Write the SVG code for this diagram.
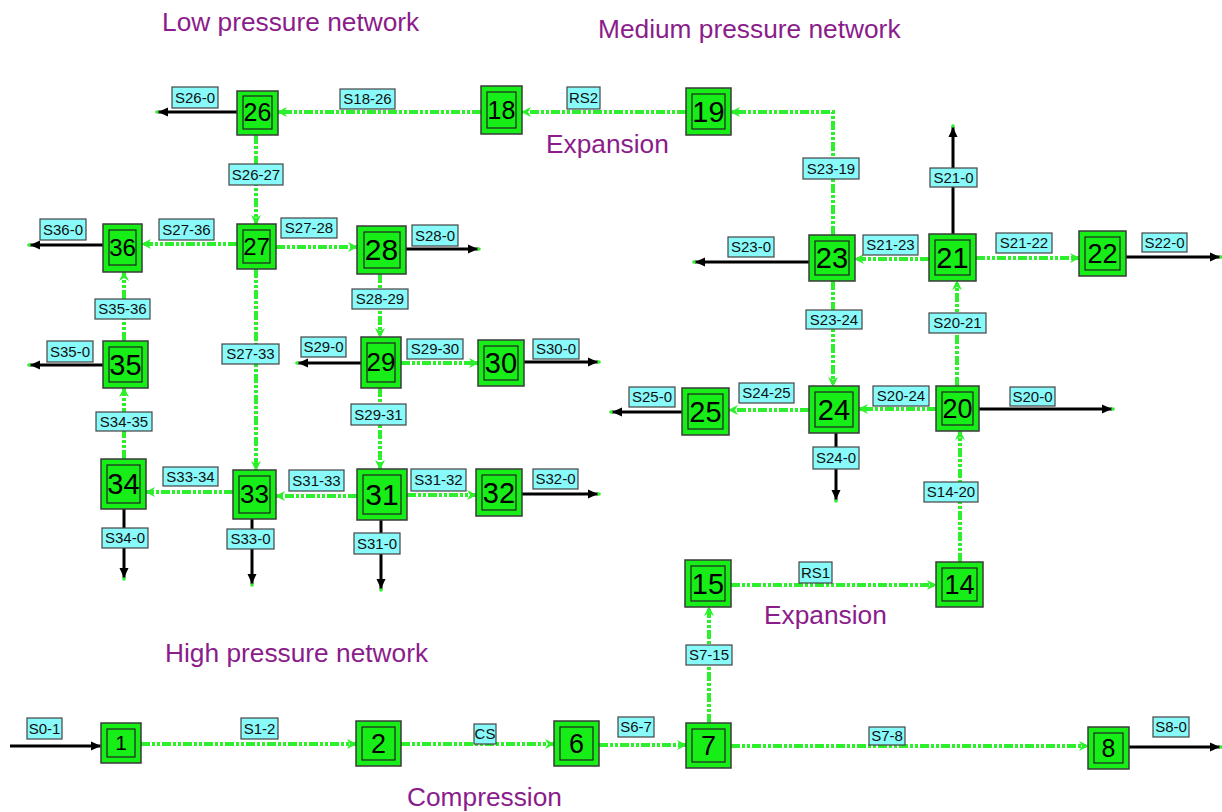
<svg xmlns="http://www.w3.org/2000/svg" width="1222" height="812" viewBox="0 0 1222 812">
  <style>
    .outer { fill: #17ee17; stroke: #3a3a3a; stroke-width: 1.5; }
    .inner { fill: #17ee17; stroke: #222; stroke-width: 1.2; }
    .num { font-family: "Liberation Sans", Arial, sans-serif; fill: #000; text-anchor: middle; }
    .flow { fill: none; stroke: #2cf02c; stroke-width: 4; stroke-dasharray: 9 2 3 2 3 2; marker-end: url(#ga); }
    .out { fill: none; stroke: #000; stroke-width: 3; marker-end: url(#ba); }
    .lbl rect { fill: #88fafa; stroke: #444; stroke-width: 1.2; }
    .lbl text { font-family: "Liberation Sans", Arial, sans-serif; font-size: 15px; fill: #111; text-anchor: middle; }
    .zone { font-family: "Liberation Sans", Arial, sans-serif; font-size: 26.3px; fill: #8b1c8b; }
  </style>
  <defs>
    <marker id="ga" viewBox="0 0 10 10" refX="9" refY="5" markerWidth="11" markerHeight="10" markerUnits="userSpaceOnUse" orient="auto">
      <path d="M0,0 L10,5 L0,10 L3,5 z" fill="#2cf02c"/>
    </marker>
    <marker id="ba" viewBox="0 0 13 10" refX="10" refY="5" markerWidth="13" markerHeight="10" markerUnits="userSpaceOnUse" orient="auto">
      <path d="M0,0.5 L10,5 L0,9.5 z" fill="#000"/>
      <circle cx="11" cy="5" r="1.8" fill="#2cf02c"/>
    </marker>
  </defs>

  <rect width="1222" height="812" fill="#fff"/>

  <!-- zone captions -->
  <g id="captions">
    <text class="zone" x="162" y="31">Low pressure network</text>
    <text class="zone" x="598" y="38">Medium pressure network</text>
    <text class="zone" x="546" y="153">Expansion</text>
    <text class="zone" x="764" y="624">Expansion</text>
    <text class="zone" x="165" y="662">High pressure network</text>
    <text class="zone" x="407" y="806">Compression</text>
  </g>

  <!-- streams -->
  <g id="connectors">
    <path class="flow" d="M141,744 H356"/>
    <path class="flow" d="M401,744 H554"/>
    <path class="flow" d="M599,745 H686"/>
    <path class="flow" d="M731,746 H1088"/>
    <path class="flow" d="M709,723 V607"/>
    <path class="flow" d="M731,585 H936"/>
    <path class="flow" d="M960,562 V431"/>
    <path class="flow" d="M957,386 V281"/>
    <path class="flow" d="M936,409 H859"/>
    <path class="flow" d="M809,410 H729"/>
    <path class="flow" d="M833,281 V386"/>
    <path class="flow" d="M929,259 H855"/>
    <path class="flow" d="M976,258 H1079"/>
    <path class="flow" d="M833,235 V112 H731"/>
    <path class="flow" d="M686,112 H522"/>
    <path class="flow" d="M481,112 H278"/>
    <path class="flow" d="M256,135 V224"/>
    <path class="flow" d="M237,244 H142"/>
    <path class="flow" d="M276,247 H357"/>
    <path class="flow" d="M256,269 V470"/>
    <path class="flow" d="M380,274 V337"/>
    <path class="flow" d="M401,363 H478"/>
    <path class="flow" d="M380,388 V469"/>
    <path class="flow" d="M407,495 H476"/>
    <path class="flow" d="M357,496 H276"/>
    <path class="flow" d="M233,492 H146"/>
    <path class="flow" d="M124,459 V388"/>
    <path class="flow" d="M124,341 V272"/>

    <path class="out" d="M10,746 H101"/>
    <path class="out" d="M1129,747 H1220"/>
    <path class="out" d="M237,112 H158"/>
    <path class="out" d="M103,245 H30"/>
    <path class="out" d="M103,365 H30"/>
    <path class="out" d="M124,509 V578"/>
    <path class="out" d="M252,519 V584"/>
    <path class="out" d="M381,520 V589"/>
    <path class="out" d="M361,363 H298"/>
    <path class="out" d="M524,362 H598"/>
    <path class="out" d="M522,494 H598"/>
    <path class="out" d="M406,249 H478"/>
    <path class="out" d="M809,262 H695"/>
    <path class="out" d="M953,234 V127"/>
    <path class="out" d="M1126,257 H1220"/>
    <path class="out" d="M979,409 H1112"/>
    <path class="out" d="M682,412 H612"/>
    <path class="out" d="M836,433 V500"/>
  </g>

  <!-- stream labels -->
  <g id="labels" class="lbl">
    <rect x="27" y="718" width="35" height="21"/><text x="44.5" y="734">S0-1</text>
    <rect x="241" y="718" width="37" height="21"/><text x="259.5" y="734">S1-2</text>
    <rect x="474" y="724" width="22" height="20"/><text x="485" y="739">CS</text>
    <rect x="618" y="717" width="36" height="20"/><text x="636" y="732">S6-7</text>
    <rect x="869" y="727" width="36" height="18"/><text x="887" y="741">S7-8</text>
    <rect x="1153" y="717" width="36" height="20"/><text x="1171" y="732">S8-0</text>
    <rect x="686" y="645" width="46" height="20"/><text x="709" y="660">S7-15</text>
    <rect x="799" y="562" width="33" height="21"/><text x="815.5" y="578">RS1</text>
    <rect x="924" y="482" width="54" height="20"/><text x="951" y="497">S14-20</text>
    <rect x="1010" y="387" width="45" height="19"/><text x="1032.5" y="402">S20-0</text>
    <rect x="929" y="313" width="57" height="20"/><text x="957.5" y="328">S20-21</text>
    <rect x="873" y="386" width="56" height="20"/><text x="901" y="401">S20-24</text>
    <rect x="739" y="383" width="55" height="20"/><text x="766.5" y="398">S24-25</text>
    <rect x="629" y="387" width="46" height="20"/><text x="652" y="402">S25-0</text>
    <rect x="813" y="447" width="46" height="22"/><text x="836" y="463">S24-0</text>
    <rect x="806" y="310" width="56" height="19"/><text x="834" y="325">S23-24</text>
    <rect x="863" y="235" width="55" height="20"/><text x="890.5" y="250">S21-23</text>
    <rect x="728" y="237" width="46" height="20"/><text x="751" y="252">S23-0</text>
    <rect x="930" y="168" width="47" height="19"/><text x="953.5" y="183">S21-0</text>
    <rect x="996" y="233" width="56" height="20"/><text x="1024" y="248">S21-22</text>
    <rect x="1142" y="233" width="45" height="19"/><text x="1164.5" y="248">S22-0</text>
    <rect x="803" y="158" width="56" height="21"/><text x="831" y="174">S23-19</text>
    <rect x="567" y="87" width="33" height="22"/><text x="583.5" y="103">RS2</text>
    <rect x="340" y="89" width="55" height="20"/><text x="367.5" y="104">S18-26</text>
    <rect x="172" y="87" width="46" height="21"/><text x="195" y="103">S26-0</text>
    <rect x="229" y="164" width="54" height="21"/><text x="256" y="180">S26-27</text>
    <rect x="159" y="219" width="55" height="21"/><text x="186.5" y="235">S27-36</text>
    <rect x="281" y="218" width="56" height="20"/><text x="309" y="233">S27-28</text>
    <rect x="412" y="225" width="46" height="21"/><text x="435" y="241">S28-0</text>
    <rect x="40" y="219" width="46" height="21"/><text x="63" y="235">S36-0</text>
    <rect x="95" y="299" width="55" height="20"/><text x="122.5" y="314">S35-36</text>
    <rect x="47" y="341" width="46" height="21"/><text x="70" y="357">S35-0</text>
    <rect x="222" y="344" width="57" height="20"/><text x="250.5" y="359">S27-33</text>
    <rect x="352" y="289" width="56" height="20"/><text x="380" y="304">S28-29</text>
    <rect x="301" y="337" width="45" height="20"/><text x="323.5" y="352">S29-0</text>
    <rect x="407" y="339" width="56" height="20"/><text x="435" y="354">S29-30</text>
    <rect x="533" y="339" width="46" height="20"/><text x="556" y="354">S30-0</text>
    <rect x="351" y="404" width="55" height="21"/><text x="378.5" y="420">S29-31</text>
    <rect x="96" y="412" width="56" height="19"/><text x="124" y="427">S34-35</text>
    <rect x="163" y="467" width="55" height="19"/><text x="190.5" y="482">S33-34</text>
    <rect x="289" y="470" width="55" height="21"/><text x="316.5" y="486">S31-33</text>
    <rect x="411" y="469" width="55" height="22"/><text x="438.5" y="485">S31-32</text>
    <rect x="533" y="469" width="45" height="20"/><text x="555.5" y="484">S32-0</text>
    <rect x="102" y="528" width="46" height="20"/><text x="125" y="543">S34-0</text>
    <rect x="227" y="529" width="47" height="20"/><text x="250.5" y="544">S33-0</text>
    <rect x="354" y="533" width="46" height="21"/><text x="377" y="549">S31-0</text>
  </g>

  <!-- units -->
  <g id="n1"><rect class="outer" x="101" y="723" width="40" height="40"/><rect class="inner" x="107" y="729" width="28" height="28"/><text class="num" x="121" y="750" font-size="21">1</text></g>
  <g id="n2"><rect class="outer" x="356" y="721" width="45" height="45"/><rect class="inner" x="362" y="727" width="33" height="33"/><text class="num" x="378.5" y="753" font-size="27">2</text></g>
  <g id="n6"><rect class="outer" x="554" y="721" width="45" height="45"/><rect class="inner" x="560" y="727" width="33" height="33"/><text class="num" x="576.5" y="753" font-size="27">6</text></g>
  <g id="n7"><rect class="outer" x="686" y="723" width="45" height="45"/><rect class="inner" x="692" y="729" width="33" height="33"/><text class="num" x="708.5" y="755" font-size="27">7</text></g>
  <g id="n8"><rect class="outer" x="1088" y="727" width="41" height="42"/><rect class="inner" x="1094" y="733" width="29" height="30"/><text class="num" x="1108.5" y="757" font-size="25">8</text></g>
  <g id="n14"><rect class="outer" x="936" y="562" width="47" height="45"/><rect class="inner" x="942" y="568" width="35" height="33"/><text class="num" x="959.5" y="594" font-size="27">14</text></g>
  <g id="n15"><rect class="outer" x="685" y="560" width="46" height="47"/><rect class="inner" x="691" y="566" width="34" height="35"/><text class="num" x="708" y="594" font-size="29">15</text></g>
  <g id="n18"><rect class="outer" x="481" y="86" width="41" height="48"/><rect class="inner" x="487" y="92" width="29" height="36"/><text class="num" x="501.5" y="119" font-size="25">18</text></g>
  <g id="n19"><rect class="outer" x="686" y="88" width="45" height="47"/><rect class="inner" x="692" y="94" width="33" height="35"/><text class="num" x="708.5" y="122" font-size="29">19</text></g>
  <g id="n20"><rect class="outer" x="936" y="386" width="43" height="45"/><rect class="inner" x="942" y="392" width="31" height="33"/><text class="num" x="957.5" y="418" font-size="27">20</text></g>
  <g id="n21"><rect class="outer" x="929" y="234" width="47" height="47"/><rect class="inner" x="935" y="240" width="35" height="35"/><text class="num" x="952.5" y="268" font-size="29">21</text></g>
  <g id="n22"><rect class="outer" x="1079" y="231" width="47" height="45"/><rect class="inner" x="1085" y="237" width="35" height="33"/><text class="num" x="1102.5" y="263" font-size="27">22</text></g>
  <g id="n23"><rect class="outer" x="809" y="235" width="46" height="46"/><rect class="inner" x="815" y="241" width="34" height="34"/><text class="num" x="832" y="268" font-size="29">23</text></g>
  <g id="n24"><rect class="outer" x="809" y="386" width="50" height="47"/><rect class="inner" x="815" y="392" width="38" height="35"/><text class="num" x="834" y="420" font-size="29">24</text></g>
  <g id="n25"><rect class="outer" x="682" y="388" width="47" height="47"/><rect class="inner" x="688" y="394" width="35" height="35"/><text class="num" x="705.5" y="422" font-size="29">25</text></g>
  <g id="n26"><rect class="outer" x="237" y="91" width="41" height="44"/><rect class="inner" x="243" y="96" width="29" height="33"/><text class="num" x="257.5" y="121" font-size="25">26</text></g>
  <g id="n27"><rect class="outer" x="237" y="224" width="39" height="45"/><rect class="inner" x="243" y="230" width="27" height="33"/><text class="num" x="256.5" y="255" font-size="24">27</text></g>
  <g id="n28"><rect class="outer" x="357" y="226" width="49" height="48"/><rect class="inner" x="364" y="232" width="36" height="36"/><text class="num" x="381.5" y="260" font-size="30">28</text></g>
  <g id="n29"><rect class="outer" x="361" y="337" width="40" height="51"/><rect class="inner" x="367" y="343" width="28" height="39"/><text class="num" x="381" y="371" font-size="26">29</text></g>
  <g id="n30"><rect class="outer" x="478" y="340" width="46" height="46"/><rect class="inner" x="484" y="346" width="34" height="34"/><text class="num" x="501" y="373" font-size="29">30</text></g>
  <g id="n31"><rect class="outer" x="357" y="469" width="50" height="51"/><rect class="inner" x="363" y="475" width="38" height="39"/><text class="num" x="382" y="505" font-size="30">31</text></g>
  <g id="n32"><rect class="outer" x="476" y="469" width="46" height="47"/><rect class="inner" x="482" y="475" width="34" height="35"/><text class="num" x="499" y="503" font-size="29">32</text></g>
  <g id="n33"><rect class="outer" x="233" y="470" width="43" height="49"/><rect class="inner" x="239" y="476" width="31" height="37"/><text class="num" x="254.5" y="503" font-size="26">33</text></g>
  <g id="n34"><rect class="outer" x="101" y="459" width="45" height="50"/><rect class="inner" x="107" y="465" width="33" height="38"/><text class="num" x="123.5" y="494" font-size="29">34</text></g>
  <g id="n35"><rect class="outer" x="103" y="341" width="45" height="47"/><rect class="inner" x="109" y="347" width="33" height="35"/><text class="num" x="125.5" y="375" font-size="29">35</text></g>
  <g id="n36"><rect class="outer" x="103" y="224" width="39" height="48"/><rect class="inner" x="109" y="230" width="27" height="35"/><text class="num" x="122.5" y="256" font-size="24">36</text></g>
</svg>
